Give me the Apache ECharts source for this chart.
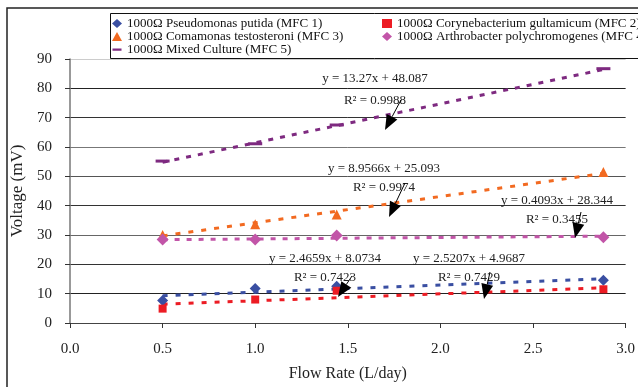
<!DOCTYPE html>
<html>
<head>
<meta charset="utf-8">
<script src="https://cdn.jsdelivr.net/npm/echarts@6/dist/echarts.min.js"></script>
<style>html,body{margin:0;padding:0;background:#fff;}#c{width:638px;height:387px;}</style>
</head>
<body>
<div id="c"></div>
<script>
// ---- data ----
var seriesNames = [
  '1000Ω Pseudomonas putida (MFC 1)',
  '1000Ω Corynebacterium gultamicum (MFC 2)',
  '1000Ω Comamonas testosteroni (MFC 3)',
  '1000Ω Arthrobacter polychromogenes (MFC 4)',
  '1000Ω Mixed Culture (MFC 5)'
];
var flowRates = [0.5, 1.0, 1.44, 2.88];
var mfc1 = [7.7, 11.8, 12.5, 14.6];
var mfc2 = [4.9, 8.0, 11.0, 11.5];
var mfc3 = [30.0, 33.7, 37.0, 51.5];
var mfc4 = [28.5, 28.5, 29.8, 29.2];
var mfc5 = [55.2, 61.1, 67.5, 86.7];
// trendline ends (x = 0.5 and x = 2.88)
var trendX = [0.5, 2.88];
var trend1 = [9.3, 15.1];
var trend2 = [6.4, 12.0];
var trend3 = [29.7, 51.0];
var trend4 = [28.4, 29.6];
var trend5 = [54.8, 86.4];
var xTicks = [0, 0.5, 1.0, 1.5, 2.0, 2.5, 3.0];
var annotations = [
  {eq: 'y = 13.27x + 48.087', r2: 'R² = 0.9988'},
  {eq: 'y = 8.9566x + 25.093', r2: 'R² = 0.9974'},
  {eq: 'y = 0.4093x + 28.344', r2: 'R² = 0.3455'},
  {eq: 'y = 2.4659x + 8.0734', r2: 'R² = 0.7423'},
  {eq: 'y = 2.5207x + 4.9687', r2: 'R² = 0.7429'}
];

var colors = ['#3A4FA2', '#EC1C24', '#F26A21', '#C255A8', '#7E2A80'];
var FONT = '"Liberation Serif", "Times New Roman", serif';

function pairs(xs, ys) { return xs.map(function (x, i) { return [x, ys[i]]; }); }

var scatterSym = ['diamond', 'rect', 'triangle', 'diamond', 'rect'];
var scatterSize = [11, 8, 10, 12, [14, 3]];
var values = [mfc1, mfc2, mfc3, mfc4, mfc5];
var trends = [trend1, trend2, trend3, trend4, trend5];
var dashes = [[5, 8], [5, 8], [5, 8], [5, 7], [5, 7]];

var series = [];
trends.forEach(function (t, i) {
  series.push({
    type: 'line', name: 'trend' + i, data: pairs(trendX, t), symbol: 'none', silent: true,
    lineStyle: {color: colors[i], width: 3, type: dashes[i]}, z: 2
  });
});
values.forEach(function (v, i) {
  series.push({
    type: 'scatter', name: seriesNames[i], data: pairs(flowRates, v),
    symbol: scatterSym[i], symbolSize: scatterSize[i],
    itemStyle: {color: colors[i], opacity: 1}, z: 3
  });
});

// annotation layout (pixel positions of text labels and arrows)
var annPos = [
  {x: 375, y1: 79, y2: 101},
  {x: 384, y1: 169, y2: 188},
  {x: 557, y1: 201, y2: 220},
  {x: 325, y1: 259, y2: 278},
  {x: 469, y1: 259, y2: 278}
];
var arrows = [
  [401, 100, 385, 130],
  [405, 183, 389, 217],
  [581, 212, 575, 238],
  [352, 276, 338, 297],
  [490, 272, 484, 299]
];

function arrow(a) {
  var x1 = a[0], y1 = a[1], x2 = a[2], y2 = a[3];
  var dx = x2 - x1, dy = y2 - y1, L = Math.sqrt(dx * dx + dy * dy);
  var ux = dx / L, uy = dy / L, hl = 15, hw = 6;
  var bx = x2 - ux * hl, by = y2 - uy * hl;
  return [
    {type: 'line', shape: {x1: x1, y1: y1, x2: bx, y2: by}, style: {stroke: '#000', lineWidth: 1}, z: 100},
    {type: 'polygon', shape: {points: [[x2, y2], [bx - uy * hw, by + ux * hw], [bx + uy * hw, by - ux * hw]]},
      style: {fill: '#000'}, z: 100}
  ];
}

var graphics = [
  {type: 'rect', shape: {x: 7, y: 8, width: 700, height: 400}, style: {fill: 'none', stroke: '#222', lineWidth: 1.5}, z: 0, silent: true},
  {type: 'rect', shape: {x: 110.5, y: 13.5, width: 600, height: 45}, style: {fill: '#fff', stroke: '#111', lineWidth: 1}, z: 50, silent: true}
];
annotations.forEach(function (a, i) {
  var p = annPos[i];
  graphics.push({type: 'text', x: p.x, y: p.y1, z: 90,
    style: {text: a.eq, font: '13px ' + FONT, fill: '#222', align: 'center', verticalAlign: 'middle'}});
  graphics.push({type: 'text', x: p.x, y: p.y2, z: 90,
    style: {text: a.r2, font: '13px ' + FONT, fill: '#222', align: 'center', verticalAlign: 'middle'}});
});
arrows.forEach(function (a) { graphics = graphics.concat(arrow(a)); });

var lineIcon = 'path://M0,0L0.01,0L0.01,0.01Z M0,4L10,4L10,6.5L0,6.5Z M9.99,9.99L10,9.99L10,10Z';
var legendText = {fontFamily: FONT, fontSize: 13, color: '#111', lineHeight: 12};

var option = {
  animation: false,
  backgroundColor: '#fff',
  grid: {left: 70, right: 6, top: 59, bottom: 59, containLabel: false},
  legend: [
    {left: 112, top: 17, orient: 'vertical', itemGap: 0, itemWidth: 10, itemHeight: 9, z: 60,
      textStyle: legendText, padding: 0,
      data: [{name: seriesNames[0], icon: 'diamond'}, {name: seriesNames[2], icon: 'triangle'}, {name: seriesNames[4], icon: lineIcon}]},
    {left: 382, top: 17, orient: 'vertical', itemGap: 0, itemWidth: 10, itemHeight: 9, z: 60,
      textStyle: legendText, padding: 0,
      data: [{name: seriesNames[1], icon: 'rect'}, {name: seriesNames[3], icon: 'diamond'}]}
  ],
  xAxis: {
    type: 'value', min: 0, max: 3, interval: 0.5,
    name: 'Flow Rate (L/day)', nameLocation: 'middle', nameGap: 43,
    nameTextStyle: {fontFamily: FONT, fontSize: 16, color: '#222'},
    axisLine: {show: true, lineStyle: {color: '#444', width: 1}},
    axisTick: {show: true, length: 5, inside: false, lineStyle: {color: '#333'}},
    axisLabel: {fontFamily: FONT, fontSize: 15, color: '#222', margin: 19,
      formatter: function (v) { return xTicks.indexOf(v) >= 0 ? v.toFixed(1) : ''; }},
    splitLine: {show: false}
  },
  yAxis: {
    type: 'value', min: 0, max: 90, interval: 10,
    name: 'Voltage (mV)', nameLocation: 'middle', nameGap: 36,
    nameTextStyle: {fontFamily: FONT, fontSize: 17, color: '#222'},
    axisLine: {show: true, lineStyle: {color: '#777', width: 1.5}},
    axisTick: {show: true, length: 5, inside: false, lineStyle: {color: '#333'}},
    axisLabel: {fontFamily: FONT, fontSize: 15, color: '#222', margin: 18},
    splitLine: {show: true, lineStyle: {color: ['#444', '#222', '#333', '#666', '#333', '#555', '#777', '#333', '#222', '#ccc'], width: 1}}
  },
  graphic: graphics,
  series: series
};
echarts.init(document.getElementById('c'), null, {renderer: 'canvas'}).setOption(option);
</script>
</body>
</html>
